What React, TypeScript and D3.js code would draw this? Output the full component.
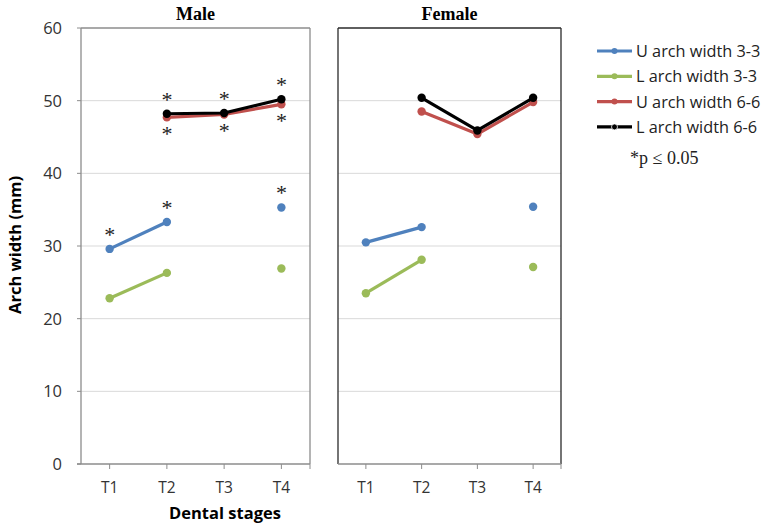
import React from "react";
import * as d3 from "d3";

const stages = ["T1", "T2", "T3", "T4"];
const seriesNames = ["U arch width 3-3", "L arch  width 3-3", "U arch width 6-6", "L arch width 6-6"];
const seriesColors = ["#4f81bd", "#9bbb59", "#c0504d", "#000000"];

const maleU33 = [29.6, 33.3, null, 35.3];
const maleL33 = [22.8, 26.3, null, 26.9];
const maleU66 = [null, 47.7, 48.1, 49.5];
const maleL66 = [null, 48.2, 48.3, 50.2];

const femaleU33 = [30.5, 32.6, null, 35.4];
const femaleL33 = [23.5, 28.1, null, 27.1];
const femaleU66 = [null, 48.5, 45.4, 49.8];
const femaleL66 = [null, 50.4, 45.9, 50.4];

const yTicks = [0, 10, 20, 30, 40, 50, 60];

// significance markers: [stage, series index]
const maleStarsAbove = [
  ["T1", 0], ["T2", 0], ["T4", 0],
  ["T2", 3], ["T3", 3], ["T4", 3],
];
const maleStarsBelow = [["T2", 2], ["T3", 2], ["T4", 2]];

const W = 762, H = 523;
const top = 28, bottom = 464;
const y = d3.scaleLinear().domain([0, 60]).range([bottom, top]);

type Panel = {
  title: string; x0: number; x1: number; data: (number | null)[][];
  above: (string | number)[][]; below: (string | number)[][]; dark: boolean;
};

const panels: Panel[] = [
  { title: "Male", x0: 81, x1: 310, data: [maleU33, maleL33, maleU66, maleL66], above: maleStarsAbove, below: maleStarsBelow, dark: false },
  { title: "Female", x0: 338, x1: 561, data: [femaleU33, femaleL33, femaleU66, femaleL66], above: [], below: [], dark: true },
];

const tickFont = "'Open Sans', 'Liberation Sans', sans-serif";
const serif = "'Liberation Serif', 'DejaVu Serif', serif";

function PanelView({ p, first }: { p: Panel; first: boolean }) {
  const x = d3.scaleBand().domain(stages).range([p.x0, p.x1]).paddingInner(0).paddingOuter(0);
  const cx = (s: string) => (x(s) as number) + x.bandwidth() / 2;
  const line = d3.line<number | null>()
    .defined((d) => d !== null)
    .x((_, i) => cx(stages[i]))
    .y((d) => y(d as number));
  const frame = p.dark ? "#2a2a2a" : "#8c8c8c";
  return (
    <g>
      {yTicks.filter((t) => t > 0 && t < 60).map((t) => (
        <line key={t} x1={p.x0} x2={p.x1} y1={y(t)} y2={y(t)} stroke="#d9d9d9" strokeWidth={1} />
      ))}
      <line x1={p.x0} x2={p.x1} y1={y(60)} y2={y(60)} stroke={frame} strokeWidth={1.3} />
      <line x1={p.x1} x2={p.x1} y1={y(60)} y2={y(0)} stroke={frame} strokeWidth={1.3} />
      <line x1={p.x0} x2={p.x0} y1={y(60)} y2={y(0)} stroke={frame} strokeWidth={1.3} />
      <line x1={p.x0 - (first ? 4 : 0)} x2={p.x1} y1={y(0)} y2={y(0)} stroke="#8c8c8c" strokeWidth={1.3} />
      {stages.map((s) => (
        <g key={s}>
          <line x1={cx(s)} x2={cx(s)} y1={y(0)} y2={y(0) + 5} stroke="#8c8c8c" />
          <text x={cx(s)} y={y(0) + 29} textAnchor="middle" fontFamily={tickFont} fontSize={15.5} fill="#333">{s}</text>
        </g>
      ))}
      <line x1={p.x1} x2={p.x1} y1={y(0)} y2={y(0) + 5} stroke="#8c8c8c" />
      {first && yTicks.map((t) => (
        <g key={t}>
          <line x1={p.x0 - 4} x2={p.x0} y1={y(t)} y2={y(t)} stroke="#8c8c8c" />
          <text x={p.x0 - 19} y={y(t) + 6} textAnchor="end" fontFamily={tickFont} fontSize={16.5} fill="#333">{t}</text>
        </g>
      ))}
      <text x={(p.x0 + p.x1) / 2} y={20} textAnchor="middle" fontFamily={serif} fontWeight="bold" fontSize={18}>{p.title}</text>
      {p.data.map((d, si) => (
        <g key={si}>
          <path d={line(d) || ""} fill="none" stroke={seriesColors[si]} strokeWidth={3.2} strokeLinejoin="round" />
          {d.map((v, i) => v === null ? null : (
            <circle key={i} cx={cx(stages[i])} cy={y(v)} r={4.2} fill={seriesColors[si]} />
          ))}
        </g>
      ))}
      {p.above.map(([s, si], k) => (
        <text key={"a" + k} x={cx(s as string)} y={y(p.data[si as number][stages.indexOf(s as string)] as number) - 7}
          textAnchor="middle" fontFamily={serif} fontSize={22} fill="#222">*</text>
      ))}
      {p.below.map(([s, si], k) => (
        <text key={"b" + k} x={cx(s as string)} y={y(p.data[si as number][stages.indexOf(s as string)] as number) + 24}
          textAnchor="middle" fontFamily={serif} fontSize={22} fill="#222">*</text>
      ))}
    </g>
  );
}

export default function App() {
  return (
    <svg width={W} height={H} style={{ position: "absolute", left: 0, top: 0, background: "#fff" }}>
      {panels.map((p, i) => <PanelView key={p.title} p={p} first={i === 0} />)}
      <text transform={`translate(21, ${245}) rotate(-90)`} textAnchor="middle" fontFamily={tickFont} fontWeight="bold" fontSize={16.5}>Arch width (mm)</text>
      <text x={225} y={519} textAnchor="middle" fontFamily={tickFont} fontWeight="bold" fontSize={16.5}>Dental stages</text>
      {seriesNames.map((n, i) => {
        const ly = 51 + i * 25.3;
        return (
          <g key={n}>
            <line x1={597} x2={632} y1={ly} y2={ly} stroke={seriesColors[i]} strokeWidth={3.2} />
            <circle cx={614.5} cy={ly} r={3} fill={seriesColors[i]} stroke={i === 3 ? "#fff" : "none"} strokeWidth={0.8} />
            <text x={636} y={ly + 6} fontFamily={tickFont} fontSize={16.3} fill="#222">{n}</text>
          </g>
        );
      })}
      <text x={630} y={164} fontFamily={serif} fontSize={18} fill="#222">*p ≤ 0.05</text>
    </svg>
  );
}
